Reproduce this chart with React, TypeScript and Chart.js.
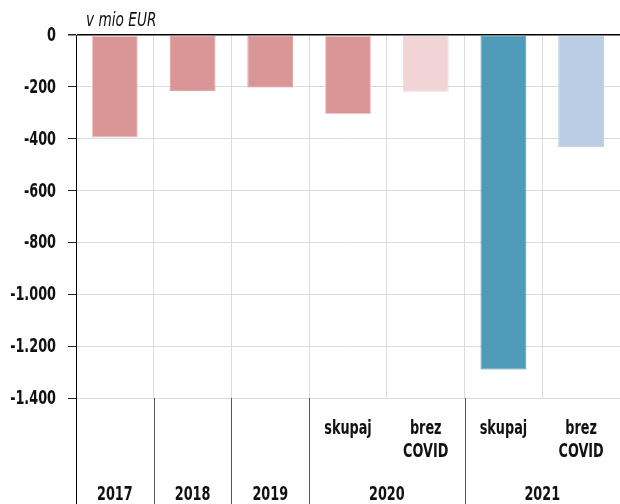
import React, { useEffect, useRef } from "react";
import { Chart, registerables } from "chart.js";

Chart.register(...registerables);

const years = ["2017", "2018", "2019", "2020", "2020", "2021", "2021"];
const subLabels: string[][] = [[], [], [], ["skupaj"], ["brez", "COVID"], ["skupaj"], ["brez", "COVID"]];
const values = [-395, -217, -202, -305, -219, -1290, -433];
const barColors = ["#DA9696", "#DA9696", "#DA9696", "#DA9696", "#F0D4D6", "#4F9AB9", "#B9CDE4"];
const barBorders = ["#F0C6C6", "#DA9696", "#DA9696", "#F0C6C6", "#F0D4D6", "#4F9AB9", "#B9CDE4"];
const yMin = -1400;
const yMax = 0;
const yStep = 200;
const unitLabel = "v mio EUR";

const FONT = "'DejaVu Sans Condensed', 'DejaVu Sans', sans-serif";
const SX = 0.75;

const fmt = (v: number) => {
  const s = Math.abs(v).toString().replace(/\B(?=(\d{3})+(?!\d))/g, ".");
  return (v < 0 ? "-" : "") + s;
};

function drawText(ctx: CanvasRenderingContext2D, text: string, x: number, y: number, align: CanvasTextAlign, font: string, sx: number, baseline: CanvasTextBaseline = "middle") {
  ctx.save();
  ctx.translate(x, y);
  ctx.scale(sx, 1);
  ctx.font = font;
  ctx.textAlign = align;
  ctx.textBaseline = baseline;
  ctx.fillText(text, 0, 0);
  ctx.restore();
}

const labelPlugin = {
  id: "customLabels",
  afterDraw(chart: any) {
    const { ctx, chartArea, scales } = chart;
    const x = scales.x;
    const y = scales.y;
    const bottom = chart.height;
    ctx.save();
    // y axis extension into category area
    ctx.strokeStyle = "#000";
    ctx.lineWidth = 1;
    ctx.beginPath();
    ctx.moveTo(chartArea.left + 0.5, chartArea.bottom);
    ctx.lineTo(chartArea.left + 0.5, bottom);
    ctx.stroke();
    // group separators
    ctx.strokeStyle = "#555";
    for (let i = 1; i < years.length; i++) {
      if (years[i] !== years[i - 1]) {
        const px = Math.round((x.getPixelForValue(i - 1) + x.getPixelForValue(i)) / 2) + 0.5;
        ctx.beginPath();
        ctx.moveTo(px, chartArea.bottom);
        ctx.lineTo(px, bottom);
        ctx.stroke();
      }
    }
    ctx.fillStyle = "#111";
    const bold = `bold 19px ${FONT}`;
    // y tick labels
    y.ticks.forEach((t: any) => {
      drawText(ctx, fmt(t.value), chartArea.left - 20, y.getPixelForValue(t.value) + 1, "right", bold, SX);
    });
    // sub labels
    subLabels.forEach((lines, i) => {
      const px = x.getPixelForValue(i);
      lines.forEach((ln, j) => {
        drawText(ctx, ln, px, chartArea.bottom + 31 + j * 23, "center", bold, SX);
      });
    });
    // year labels
    let start = 0;
    for (let i = 1; i <= years.length; i++) {
      if (i === years.length || years[i] !== years[start]) {
        const px = (x.getPixelForValue(start) + x.getPixelForValue(i - 1)) / 2;
        drawText(ctx, years[start], px, chartArea.bottom + 97, "center", bold, SX);
        start = i;
      }
    }
    // unit title
    drawText(ctx, unitLabel, chartArea.left + 10, chartArea.top - 9, "left", `oblique 19px ${FONT}`, 0.8, "alphabetic");
    ctx.restore();
  },
};

export default function App() {
  const ref = useRef<HTMLCanvasElement>(null);
  useEffect(() => {
    if (!ref.current) return;
    const chart = new Chart(ref.current, {
      type: "bar",
      data: {
        labels: years.map((yr, i) => (subLabels[i].length ? `${yr} ${subLabels[i].join(" ")}` : yr)),
        datasets: [
          {
            data: values,
            backgroundColor: barColors,
            borderColor: barBorders,
            borderWidth: 1,
            borderSkipped: false,
            categoryPercentage: 1,
            barPercentage: 0.59,
          },
        ],
      },
      options: {
        responsive: false,
        animation: false,
        devicePixelRatio: 1,
        layout: { padding: { top: 35, right: 0, left: 0, bottom: 0 } },
        plugins: { legend: { display: false }, tooltip: { enabled: false }, title: { display: false } },
        scales: {
          x: {
            ticks: { display: false },
            border: { display: false },
            grid: { color: "#dcdcdc", tickLength: 0, offset: true },
            afterFit: (s: any) => {
              s.height = 106;
            },
          },
          y: {
            min: yMin,
            max: yMax,
            ticks: { stepSize: yStep, display: false },
            border: { display: true, color: "#000", width: 1 },
            grid: {
              color: (c: any) => (c.tick && c.tick.value === 0 ? "#000" : "#dcdcdc"),
              lineWidth: (c: any) => (c.tick && c.tick.value === 0 ? 1.5 : 1),
              tickColor: "#222",
              tickLength: 8,
            },
            afterFit: (s: any) => {
              s.width = 76;
            },
          },
        },
      },
      plugins: [labelPlugin],
    });
    return () => chart.destroy();
  }, []);
  return (
    <div style={{ position: "fixed", left: 0, top: 0, width: 620, height: 504, background: "#fff" }}>
      <canvas ref={ref} width={620} height={504} />
    </div>
  );
}
